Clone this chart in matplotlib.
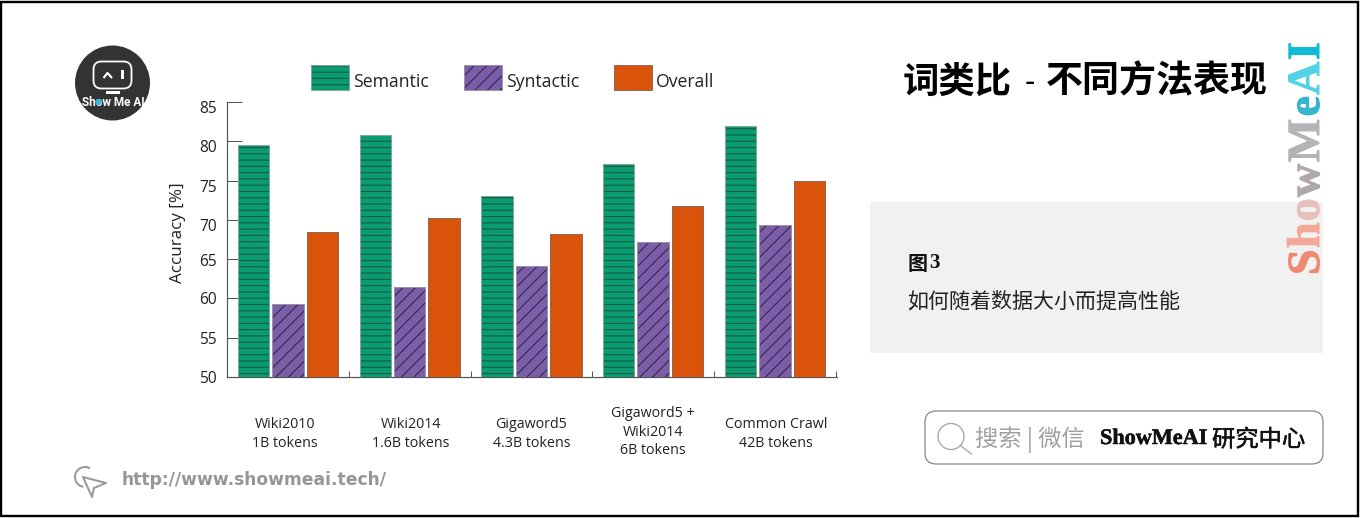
import matplotlib
matplotlib.use("Agg")
import matplotlib.pyplot as plt
from matplotlib.patches import Rectangle, FancyBboxPatch, Circle, Polygon, Arc, Patch
from matplotlib.legend_handler import HandlerTuple
from matplotlib.transforms import Affine2D
import matplotlib.patheffects as pe
import numpy as np

categories = ["Wiki2010\n1B tokens", "Wiki2014\n1.6B tokens", "Gigaword5\n4.3B tokens",
              "Gigaword5 +\nWiki2014\n6B tokens", "Common Crawl\n42B tokens"]
semantic = [79.5, 80.8, 73.0, 77.1, 81.9]
syntactic = [59.3, 61.5, 64.1, 67.2, 69.3]
overall = [68.5, 70.3, 68.2, 71.7, 74.9]
y_ticks = [50, 55, 60, 65, 70, 75, 80, 85]

W, H, DPI = 1361, 518, 113
CJK = ["Noto Sans CJK SC", "DejaVu Sans"]
SANS = "Open Sans"
plt.rcParams["hatch.linewidth"] = 0.7
def fs(px):
    return px * 72 / DPI
def heavy(w, c):
    return [pe.withStroke(linewidth=fs(w), foreground=c)]

fig = plt.figure(figsize=(W / DPI, H / DPI), dpi=DPI, facecolor="white")
bg = fig.add_axes([0, 0, 1, 1], zorder=0)
bg.set_xlim(0, W); bg.set_ylim(H, 0); bg.axis("off")

# frame and panel
bg.add_patch(Rectangle((1, 1.5), 1357, 514.5, fc="none", ec="black", lw=fs(2.4)))
bg.add_patch(Rectangle((870, 202), 453, 151, fc="#f1f1f1", ec="none"))

# chart
ax = fig.add_axes([227 / W, 1 - 377 / H, 610 / W, 275 / H], zorder=2)
ax.patch.set_alpha(0)
ax.set_xlim(-0.501, 4.51); ax.set_ylim(50, 85)
x = np.arange(len(categories))
off, bw = 0.283, 0.258
series = [(semantic, -off, "#0a9c6f", "#14594a", "---"),
          (syntactic, 0, "#7b5ea7", "#33284a", "///"),
          (overall, off, "#d9530b", "#d9530b", None)]
edge = ["#7fa89a", "#9a94a8", "#8f6a52"]
handles = []
for (vals, dx, fc, hc, hatch), ec in zip(series, edge):
    ax.bar(x + dx, vals, bw, color=fc, edgecolor=hc, hatch=hatch, linewidth=0, zorder=3)
    ax.bar(x + dx, vals, bw, fill=False, edgecolor=ec, linewidth=fs(1), zorder=4)
    handles.append((Patch(fc=fc, ec=hc, hatch=hatch, lw=0), Patch(fill=False, ec=ec, lw=fs(1))))

axc = "#555555"
for s in ("top", "right"):
    ax.spines[s].set_visible(False)
for s in ("left", "bottom"):
    ax.spines[s].set_color(axc); ax.spines[s].set_linewidth(fs(1.2))
ax.set_axisbelow(True)
ax.set_yticks(y_ticks)
ax.tick_params(axis="y", direction="in", length=fs(15), width=fs(1), color=axc,
               labelsize=fs(15.5), labelcolor="#222222", pad=fs(10))
ax.set_xticks(np.arange(len(categories) + 1) - 0.5)
ax.tick_params(axis="x", which="major", direction="in", length=fs(6), width=fs(1),
               color=axc, labelbottom=False)
ax.set_xticks(x, categories, minor=True)
ax.tick_params(axis="x", which="minor", length=0, pad=fs(57), labelsize=fs(14.2), labelcolor="#222222")
for lab, dx_, dy_ in zip(ax.get_xticklabels(minor=True), [-3, 1, 0, 0, 1], [0, 0, 0, 2, 0]):
    lab.set_family(SANS); lab.set_va("center"); lab.set_linespacing(1.33)
    lab.set_transform(lab.get_transform() + Affine2D().translate(dx_, dy_))
for lab, d in zip(ax.get_yticklabels(), [0, 0, 0, 1, 5, 5, 5, 5]):
    lab.set_family(SANS)
    lab.set_transform(lab.get_transform() + Affine2D().translate(0, -d))
ax.set_ylabel("Accuracy [%]", fontsize=fs(17), family=SANS, color="#222222")
ax.yaxis.set_label_coords(186, 233, transform=bg.transData)

leg = ax.legend(handles, ["Semantic", "Syntactic", "Overall"], ncols=3, frameon=False,
                handler_map={tuple: HandlerTuple(ndivide=1, pad=0)},
                prop={"family": SANS, "size": fs(17.6)}, labelcolor="#222222",
                handlelength=38 / 17.6, handleheight=1.85, handletextpad=4 / 17.6,
                columnspacing=35 / 17.6, borderpad=0, borderaxespad=0,
                loc="lower left", bbox_to_anchor=(311, H - 90), bbox_transform=Affine2D())
for t in leg.get_texts():
    t.set_y(-4)

# title and notes
bg.text(903, 82, "词类比", family=CJK, fontweight="bold", fontsize=fs(36.4), color="black", va="center")
bg.text(1029.5, 82, "-", family=CJK, fontsize=fs(30), color="black", va="center", ha="center")
bg.text(1045.5, 82, "不同方法表现", family=CJK, fontweight="bold", fontsize=fs(37), color="black", va="center")
bg.text(908, 263, "图", family=CJK, fontweight="bold", fontsize=fs(20), va="center", color="#111111")
bg.text(929.5, 263, "3", family="Liberation Serif", fontweight="bold", fontsize=fs(21), va="center", color="#111111")
bg.text(907.5, 301, "如何随着数据大小而提高性能", family=CJK, fontsize=fs(21), va="center", color="#222222")

# vertical gradient wordmark, one letter at a time
word = "ShowMeAI"
cols = ["#ee8a74", "#f3a898", "#e8c0bb", "#b0a8ac", "#b3b3b8", "#36b5cc", "#50d3e4", "#0fbcd6"]
r = fig.canvas.get_renderer()
ypos = 275.0
for ch, c in zip(word, cols):
    t = bg.text(1308, ypos, ch, family="Liberation Serif", fontweight="bold", fontsize=fs(46),
                rotation=90, color=c, ha="center", va="bottom", path_effects=heavy(1.0, c))
    ypos -= t.get_window_extent(r).height * 1.05

# search box
bg.add_patch(FancyBboxPatch((931, 417), 386, 41, boxstyle="round,pad=6,rounding_size=11",
                            fc="white", ec="#777777", lw=fs(1.1)))
bg.add_patch(Circle((951, 436.5), 13, fc="none", ec="#a5a5a5", lw=fs(1.3)))
bg.plot([961, 971.5], [446, 454], color="#a5a5a5", lw=fs(1.3))
bg.text(975.5, 440, "搜索 | 微信", family=CJK, fontsize=fs(23.2), color="#a0a0a0", va="center")
bg.text(1100, 439, "ShowMeAI", family="Liberation Serif", fontweight="bold", fontsize=fs(22.2),
        color="#111111", va="center", path_effects=heavy(0.5, "#111111"))
bg.text(1212, 440, "研究中心", family=CJK, fontsize=fs(23.3), color="#111111", va="center",
        path_effects=heavy(0.5, "#111111"))

# url
bg.add_patch(Polygon([[83, 477], [106, 483], [94, 488], [92, 497]], closed=True, fc="white",
                     ec="#999999", lw=fs(2), joinstyle="round"))
bg.add_patch(Arc((85, 477), 20, 20, theta1=100, theta2=300, ec="#999999", lw=fs(2)))
bg.text(122, 480, "http://www.showmeai.tech/", family="DejaVu Sans", fontweight="bold",
        fontsize=fs(17.1), color="#969696", va="center")

# logo
bg.add_patch(Circle((112.5, 83), 37.5, fc="#333333", ec="none"))
bg.add_patch(FancyBboxPatch((99, 67), 27, 16, boxstyle="round,pad=5.5,rounding_size=8",
                            fc="#333333", ec="white", lw=fs(1.8)))
bg.plot([103.5, 107.5, 112], [78, 73, 78], color="white", lw=fs(2.2), solid_capstyle="butt")
bg.add_patch(Rectangle((121, 70), 3, 9, fc="white", ec="none"))
bg.add_patch(Rectangle((106, 91), 14, 2.5, fc="white", ec="none"))
bg.text(113, 102, "Show Me AI", color="white", family="Roboto", fontweight="bold",
        fontsize=fs(11.7), ha="center", va="center")
bg.add_patch(Circle((98.5, 102), 3.2, fc="#35b6d6", ec="none", zorder=5))

fig.savefig("out.png", dpi=DPI, facecolor="white")
